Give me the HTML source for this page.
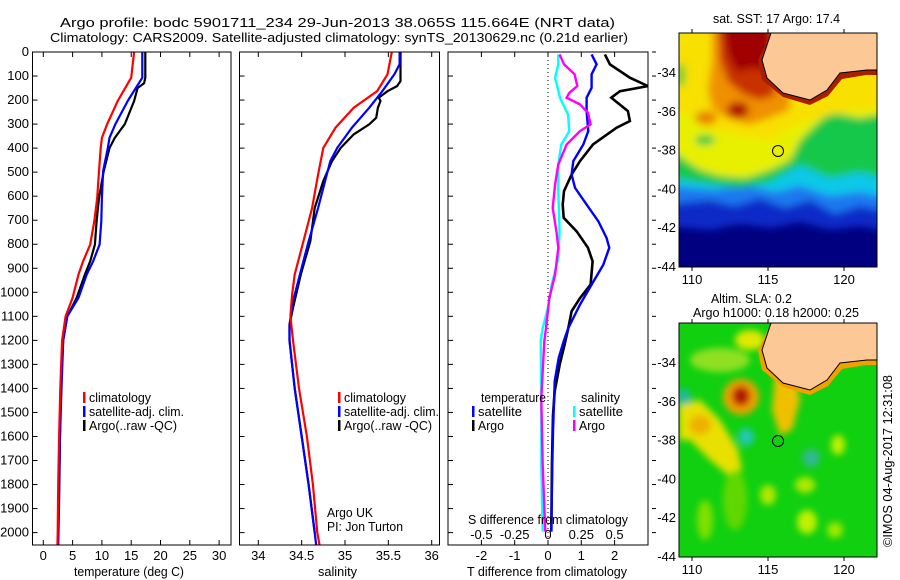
<!DOCTYPE html>
<html><head><meta charset="utf-8">
<style>
body{margin:0;background:#fff;}
svg{display:block;font-family:"Liberation Sans",sans-serif;}
text{font-size:13px;fill:#000;}
</style></head>
<body>
<svg id="fig" width="900" height="580" viewBox="0 0 900 580" xmlns="http://www.w3.org/2000/svg">
<defs>
<filter id="blur1" x="-10%" y="-10%" width="120%" height="120%"><feGaussianBlur stdDeviation="4"/></filter>
<filter id="blur2" x="-10%" y="-10%" width="120%" height="120%"><feGaussianBlur stdDeviation="3.5"/></filter>
<clipPath id="cp1"><rect x="33" y="52" width="198" height="493"/></clipPath>
<clipPath id="cp2"><rect x="240" y="52" width="199" height="493"/></clipPath>
<clipPath id="cp3"><rect x="448" y="52" width="200" height="493"/></clipPath>
<clipPath id="cm1"><rect x="679" y="33" width="198" height="234"/></clipPath>
<clipPath id="cm2"><rect x="679" y="323" width="198" height="234"/></clipPath>
</defs>
<text x="60" y="27" textLength="555" lengthAdjust="spacingAndGlyphs">Argo profile: bodc 5901711_234 29-Jun-2013 38.065S 115.664E (NRT data)</text>
<text x="50" y="42" textLength="578" lengthAdjust="spacingAndGlyphs">Climatology: CARS2009. Satellite-adjusted climatology: synTS_20130629.nc (0.21d earlier)</text>
<g id="g1" clip-path="url(#cp1)"></g>
<g id="g2" clip-path="url(#cp2)"></g>
<g id="g3" clip-path="url(#cp3)"></g>
<g id="axes"></g>

<!-- Map 1: SST -->
<g>
<g clip-path="url(#cm1)">
<rect x="679" y="33" width="198" height="234" fill="#000080"/>
<g filter="url(#blur1)">
<path d="M670 20 H890 V232 L860 226 L830 230 L800 222 L770 228 L740 224 L710 230 L670 226Z" fill="#0a2cc8"/>
<path d="M670 20 H890 V212 L860 206 L835 214 L810 200 L785 208 L760 198 L735 206 L710 200 L670 204Z" fill="#1a78f0"/>
<path d="M670 20 H890 V198 L860 192 L830 196 L800 186 L775 192 L745 185 L715 190 L670 186Z" fill="#10c8e8"/>
<path d="M670 20 H890 V180 L860 172 L830 178 L800 165 L770 182 L740 188 L710 184 L670 178Z" fill="#18c848"/>
<path d="M670 20 H890 V112 L860 118 L830 112 L815 125 L800 140 L790 160 L770 170 L745 178 L720 176 L700 170 L670 150Z" fill="#e8f000"/>
<path d="M670 20 H890 V108 L850 110 L810 120 L790 128 L770 140 L740 135 L710 130 L690 115 L670 110Z" fill="#f8e000"/>
<path d="M712 20 H790 V110 L770 118 L750 125 L725 118 L712 108 L708 90 L712 60Z" fill="#f09000"/>
<path d="M718 20 H775 V95 L760 100 L745 95 L728 82 L720 60Z" fill="#c83000"/>
<path d="M722 20 H770 V72 L752 68 L737 72 L728 55Z" fill="#a00000"/>
<ellipse cx="738" cy="110" rx="11" ry="8" fill="#b01000"/>
<ellipse cx="706" cy="118" rx="11" ry="7" fill="#e88000"/>
<ellipse cx="705" cy="140" rx="10" ry="5" fill="#18c848"/>
<ellipse cx="681" cy="75" rx="4" ry="12" fill="#40c830"/>
</g>
<path d="M771 33 L758 60 L762 80 L783 97 L810 105 L828 96 L842 79 L866 75 L877 75 L877 70 L867 70 L840 73 L827 90 L810 100 L783 93 L767 78 L762 60 L771 33Z" fill="#a82000"/>
<path d="M771 33 L762 60 L767 78 L783 93 L810 100 L827 90 L840 73 L867 70 L877 70 L877 33Z" fill="#fcc896" stroke="#000" stroke-width="1"/>
<circle cx="778" cy="151" r="5.5" fill="#e8f000" stroke="#000" stroke-width="1"/>
</g>
<rect x="679" y="33" width="198" height="234" fill="none" stroke="#000" stroke-width="1"/>
<text x="713" y="23" textLength="127" lengthAdjust="spacingAndGlyphs">sat. SST: 17 Argo: 17.4</text>
</g>

<!-- Map 2: SLA -->
<g>
<g clip-path="url(#cm2)">
<rect x="679" y="323" width="198" height="234" fill="#10d010"/>
<g filter="url(#blur2)">
<ellipse cx="720" cy="360" rx="30" ry="12" fill="#90e020"/>
<ellipse cx="750" cy="340" rx="15" ry="10" fill="#e0e800"/>
<ellipse cx="741" cy="397" rx="18" ry="18" fill="#f0a000"/>
<ellipse cx="741" cy="396" rx="9" ry="10" fill="#b01800"/>
<path d="M679 405 L700 400 L720 420 L738 450 L742 470 L728 475 L710 460 L690 440 L679 440Z" fill="#e8e000"/>
<ellipse cx="700" cy="425" rx="11" ry="10" fill="#f0b000"/>
<path d="M775 375 L795 378 L800 400 L792 430 L780 435 L772 410Z" fill="#f0c000"/>
<ellipse cx="684" cy="397" rx="7" ry="8" fill="#20b8a0"/>
<ellipse cx="746" cy="437" rx="8" ry="9" fill="#20c8b0"/>
<ellipse cx="811" cy="458" rx="9" ry="9" fill="#30b890"/>
<ellipse cx="838" cy="445" rx="7" ry="10" fill="#c0f000"/>
<ellipse cx="805" cy="485" rx="10" ry="8" fill="#b0e800"/>
<ellipse cx="768" cy="495" rx="8" ry="10" fill="#b0e800"/>
<ellipse cx="807" cy="522" rx="10" ry="12" fill="#c0f000"/>
<ellipse cx="835" cy="530" rx="8" ry="8" fill="#a0e800"/>
<ellipse cx="705" cy="520" rx="8" ry="20" fill="#80e000"/>
<ellipse cx="770" cy="355" rx="8" ry="12" fill="#d0e800"/>
<ellipse cx="735" cy="500" rx="12" ry="30" fill="#60d800"/>
</g>
<path d="M771 323 L758 350 L762 370 L783 387 L810 395 L828 386 L842 369 L866 365 L877 365 L877 360 L867 360 L840 363 L827 380 L810 390 L783 383 L767 368 L762 350 L771 323Z" fill="#f0a000"/>
<path d="M771 323 L762 350 L767 368 L783 383 L810 390 L827 380 L840 363 L867 360 L877 360 L877 323Z" fill="#fcc896" stroke="#000" stroke-width="1"/>
<circle cx="778" cy="441" r="5.5" fill="none" stroke="#000" stroke-width="1"/>
</g>
<rect x="679" y="323" width="198" height="234" fill="none" stroke="#000" stroke-width="1"/>
<text x="711" y="303" textLength="81" lengthAdjust="spacingAndGlyphs">Altim. SLA: 0.2</text>
<text x="693" y="317" textLength="166" lengthAdjust="spacingAndGlyphs">Argo h1000: 0.18 h2000: 0.25</text>
</g>
<text transform="translate(892,547) rotate(-90)" textLength="172" lengthAdjust="spacingAndGlyphs">©IMOS 04-Aug-2017 12:31:08</text>
</svg>
<script>
// ---- temperature panel data ----
const tClimDepth = [0,107,204,300,357,400,496,607,704,801,871,926,1023,1100,1200,1400,1600,1800,2000,2060];
const tClim      = [15.5,15.0,12.7,10.9,10.0,9.8,9.5,9.2,8.7,8.0,6.8,6.0,5.0,3.8,3.2,2.9,2.7,2.55,2.45,2.4];
const tSatDepth  = [0,107,204,300,357,400,496,607,704,801,871,926,1023,1100,1200,1400,1600,1800,2000,2060];
const tSat       = [16.9,16.9,14.4,12.3,11.3,11.0,10.2,10.0,9.9,9.6,8.5,7.4,6.0,4.1,3.4,3.1,2.85,2.75,2.6,2.55];
const tArgoDepth = [0,107,130,150,204,300,357,400,496,607,704,801,871,926,1023,1100,1200,1400,1600,1800,2000];
const tArgo      = [17.4,17.4,17.2,16.1,15.5,13.9,12.2,11.3,10.3,9.5,9.1,8.8,8.0,7.1,5.7,4.1,3.4,3.0,2.85,2.7,2.55];
// ---- salinity panel data ----
const sClimDepth = [0,93,163,232,315,399,510,649,788,926,1010,1100,1200,1400,1600,1800,2000,2060];
const sClim      = [35.54,35.49,35.37,35.1,34.89,34.75,34.69,34.62,34.52,34.42,34.39,34.37,34.40,34.47,34.56,34.63,34.68,34.71];
const sSatDepth  = [0,51,93,163,232,315,399,454,537,649,788,926,1037,1135,1200,1400,1600,1800,2000,2060];
const sSat       = [35.63,35.63,35.57,35.43,35.28,35.08,34.91,34.83,34.77,34.69,34.58,34.48,34.40,34.36,34.36,34.42,34.50,34.58,34.65,34.67];
const sArgoDepth = [0,121,142,163,190,204,232,274,301,343,399,454,537,649,788,926,1065,1135,1200,1400,1600,1800,2000];
const sArgo      = [35.64,35.64,35.6,35.49,35.39,35.41,35.38,35.36,35.28,35.1,34.95,34.85,34.75,34.65,34.6,34.49,34.40,34.36,34.36,34.42,34.50,34.58,34.65];
// ---- difference panel data ----
const dTArgoDepth = [10,51,107,142,163,190,246,287,315,385,454,510,579,635,690,746,815,871,968,1024,1079,1149,1217,1301,1412,1510,1700,1996];
const dTArgo      = [1.71,1.86,2.46,3.0,2.16,1.9,2.4,2.46,2.06,1.35,0.96,0.71,0.48,0.44,0.47,0.86,1.2,1.34,1.28,0.96,0.71,0.61,0.5,0.35,0.2,0.15,0.12,0.1];
const dTSatDepth  = [10,51,93,149,190,246,329,385,454,510,565,635,704,774,815,885,968,1051,1149,1204,1273,1370,1579,1718,1996];
const dTSat       = [1.31,1.46,1.31,1.31,1.16,1.16,1.21,1.06,0.76,0.71,0.81,1.16,1.51,1.76,1.84,1.66,1.31,0.96,0.61,0.47,0.32,0.2,0.15,0.13,0.1];
const dSSatDepth  = [10,51,107,190,260,329,385,468,579,746,857,968,1051,1149,1204,1440,1718,1996];
const dSSat       = [0.077,0.077,0.053,0.09,0.15,0.16,0.1,0.077,0.077,0.087,0.077,0.028,0.005,-0.04,-0.055,-0.05,-0.05,-0.04];
const dSArgoDepth = [10,51,93,142,170,190,218,253,301,329,385,468,551,649,746,815,926,1024,1149,1204,1440,1718,1996];
const dSArgo      = [0.087,0.12,0.2,0.22,0.16,0.14,0.24,0.3,0.32,0.24,0.14,0.077,0.053,0.035,0.063,0.077,0.053,0.01,-0.015,-0.028,-0.05,-0.04,-0.02];
// ---- tick labels ----
const depthTicks = [0,100,200,300,400,500,600,700,800,900,1000,1100,1200,1300,1400,1500,1600,1700,1800,1900,2000];
const tempTicks = [0,5,10,15,20,25,30];
const salTicks = [34,34.5,35,35.5,36];
const dTTicks = [-2,-1,0,1,2];
const dSTicks = [-0.5,-0.25,0,0.25,0.5];
const latTicks = [-34,-36,-38,-40,-42,-44];
const lonTicks = [110,115,120];

const NS = 'http://www.w3.org/2000/svg';
const yD = d => 52 + d*0.2403;
const x1 = t => 43.3 + t*5.86;
const x2 = s => 258.3 + (s-34)*86.7;
const x3 = t => 548 + t*33.3;
const x3s = s => 548 + s*133.2;
function mk(tag, parent, attrs){const e=document.createElementNS(NS,tag);for(const k in attrs)e.setAttribute(k,attrs[k]);parent.appendChild(e);return e;}
function line(parent, depths, vals, xf, color, w, name){
  const pts = depths.map((d,i)=>xf(vals[i]).toFixed(1)+','+yD(d).toFixed(1)).join(' ');
  const p = mk('polyline', parent, {points:pts, fill:'none', stroke:color, 'stroke-width':w, 'stroke-linejoin':'miter'});
  
  
}
const g1=document.getElementById('g1'), g2=document.getElementById('g2'), g3=document.getElementById('g3'), ax=document.getElementById('axes');
line(g1,tArgoDepth,tArgo,x1,'#000',2.2,'temp-argo-line');
line(g1,tSatDepth,tSat,x1,'#0000ff',2.2,'temp-satellite-line');
line(g1,tClimDepth,tClim,x1,'#ff0000',2.2,'temp-climatology-line');
line(g2,sArgoDepth,sArgo,x2,'#000',2.2,'sal-argo-line');
line(g2,sSatDepth,sSat,x2,'#0000ff',2.2,'sal-satellite-line');
line(g2,sClimDepth,sClim,x2,'#ff0000',2.2,'sal-climatology-line');
mk('line',g3,{x1:548,y1:52,x2:548,y2:545,stroke:'#000','stroke-width':1,'stroke-dasharray':'1,3'});
line(g3,dTArgoDepth,dTArgo,x3,'#000',2.6,'tdiff-argo-line');
line(g3,dTSatDepth,dTSat,x3,'#0000ff',2.4,'tdiff-satellite-line');
line(g3,dSSatDepth,dSSat,x3s,'#00ffff',2.4,'sdiff-satellite-line');
line(g3,dSArgoDepth,dSArgo,x3s,'#ff00ff',2.4,'sdiff-argo-line');

function txt(x,y,s,anchor,name,tl){const t=mk('text',ax,{x:x,y:y,'text-anchor':anchor||'start'});t.textContent=s;
  if(tl){t.setAttribute('textLength',tl);t.setAttribute('lengthAdjust','spacingAndGlyphs');}
  
  
  return t;}
const panels=[[32.5,231],[239.5,439.5],[448,648]];
panels.forEach((p,i)=>{
  const r=mk('rect',ax,{x:p[0],y:52,width:p[1]-p[0],height:493,fill:'none',stroke:'#000','stroke-width':1});
  
  
  depthTicks.forEach(d=>{
    mk('line',ax,{x1:p[0],y1:yD(d),x2:p[0]+5,y2:yD(d),stroke:'#000'});
    if(i===2) mk('line',ax,{x1:p[1]+4,y1:yD(d),x2:p[1]+8,y2:yD(d),stroke:'#000'});
  });
});
depthTicks.forEach(d=>txt(29,yD(d)+4,String(d),'end','depth-tick-label'));
tempTicks.forEach(t=>{mk('line',ax,{x1:x1(t),y1:52,x2:x1(t),y2:57,stroke:'#000'});mk('line',ax,{x1:x1(t),y1:545,x2:x1(t),y2:540,stroke:'#000'});txt(x1(t),560,String(t),'middle','temp-tick-label');});
salTicks.forEach(s=>{mk('line',ax,{x1:x2(s),y1:52,x2:x2(s),y2:57,stroke:'#000'});mk('line',ax,{x1:x2(s),y1:545,x2:x2(s),y2:540,stroke:'#000'});txt(x2(s),560,String(s),'middle','sal-tick-label');});
dTTicks.forEach(t=>{mk('line',ax,{x1:x3(t),y1:52,x2:x3(t),y2:57,stroke:'#000'});mk('line',ax,{x1:x3(t),y1:545,x2:x3(t),y2:540,stroke:'#000'});txt(x3(t),560,String(t),'middle','tdiff-tick-label');});
dSTicks.forEach(s=>{txt(x3s(s),539,String(s),'middle','sdiff-tick-label');});
txt(74,576,'temperature (deg C)','start','temp-axis-title',110);
txt(318,576,'salinity','start','sal-axis-title',39);
txt(467,576,'T difference from climatology','start','tdiff-axis-title',160);
txt(468,524,'S difference from climatology','start','sdiff-axis-title',160);
txt(327,517,'Argo UK','start','credit-argo-uk',46);
txt(327,531,'PI: Jon Turton','start','credit-pi',76);
// legends
function leg(x,y,color,label,name,tl){mk('rect',ax,{x:x,y:y-10,width:2.5,height:11,fill:color});txt(x+6,y,label,'start',name,tl);}
leg(83,402,'#ff0000','climatology','legend-climatology',62);
leg(83,416,'#0000ff','satellite-adj. clim.','legend-satellite',95);
leg(83,430,'#000','Argo(..raw -QC)','legend-argo',88);
leg(338,402,'#ff0000','climatology','legend2-climatology',62);
leg(338,416,'#0000ff','satellite-adj. clim.','legend2-satellite',95);
leg(338,430,'#000','Argo(..raw -QC)','legend2-argo',88);
txt(481,402,'temperature','start','legend3-temperature-heading',65);
txt(581,402,'salinity','start','legend3-salinity-heading',39);
leg(472,416,'#0000ff','satellite','legend3-t-satellite',44);
leg(472,430,'#000','Argo','legend3-t-argo',26);
leg(573,416,'#00ffff','satellite','legend3-s-satellite',44);
leg(573,430,'#ff00ff','Argo','legend3-s-argo',26);
// map axes
const lonX = l => 692 + (l-110)*15.2;
[[33,72],[323,362]].forEach((m,j)=>{
  latTicks.forEach((la,k)=>{const y=m[1]+k*38.8;
    mk('line',ax,{x1:679,y1:y,x2:683,y2:y,stroke:'#000'});mk('line',ax,{x1:873,y1:y,x2:877,y2:y,stroke:'#000'});
    txt(676,y+5,String(la),'end','lat-tick-label');});
  lonTicks.forEach(l=>{mk('line',ax,{x1:lonX(l),y1:m[0],x2:lonX(l),y2:m[0]-4,stroke:'#000'});
    mk('line',ax,{x1:lonX(l),y1:m[0]+234,x2:lonX(l),y2:m[0]+238,stroke:'#000'});
    txt(lonX(l),m[0]+251,String(l),'middle','lon-tick-label');});
});
</script>
</body></html>
